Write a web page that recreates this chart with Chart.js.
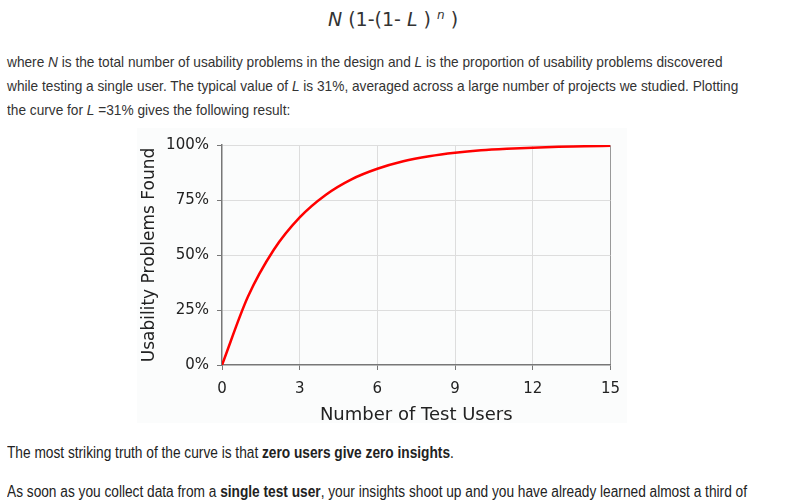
<!DOCTYPE html>
<html>
<head>
<meta charset="utf-8">
<script src="https://cdn.jsdelivr.net/npm/chart.js@4"></script>
<style>
  body { margin: 0; background: #fff; width: 800px; height: 502px; overflow: hidden; position: relative; }
  .formula { position: absolute; top: 8px; left: 0; width: 786px; text-align: center; font-family: "DejaVu Sans", sans-serif; font-size: 19px; color: #333; }
  .formula sup { font-size: 12px; }
  .line { position: absolute; left: 7px; font-family: "Liberation Sans", Arial, sans-serif; font-size: 15px; color: #333; white-space: nowrap; transform-origin: 0 0; transform: scaleX(0.912); }
  .bottom { position: absolute; left: 7px; font-family: "Liberation Sans", Arial, sans-serif; font-size: 16px; color: #222; white-space: nowrap; transform-origin: 0 0; transform: scaleX(0.856); }
  .chartbg { position: absolute; left: 137px; top: 128px; width: 490px; height: 295px; background: #fbfcfc; }
  .wrap { position: absolute; left: 130px; top: 128px; width: 500px; height: 300px; }
</style>
</head>
<body>
<div class="formula"><i>N</i> (1-(1- <i>L</i> ) <sup><i>n</i></sup> )</div>
<div class="line" style="top:53px">where <i>N</i> is the total number of usability problems in the design and <i>L</i> is the proportion of usability problems discovered</div>
<div class="line" style="top:77px">while testing a single user. The typical value of <i>L</i> is 31%, averaged across a large number of projects we studied. Plotting</div>
<div class="line" style="top:101px">the curve for <i>L</i> =31% gives the following result:</div>
<div class="chartbg"></div>
<div class="wrap"><canvas id="curve"></canvas></div>
<div class="bottom" style="top:444px">The most striking truth of the curve is that <b>zero users give zero insights</b>.</div>
<div class="bottom" style="top:483px">As soon as you collect data from a <b>single test user</b>, your insights shoot up and you have already learned almost a third of</div>
<script>
// values
const users = [0, 1, 2, 3, 4, 5, 6, 7, 8, 9, 10, 11, 12, 13, 14, 15];
const found = [0, 31, 52.4, 67.1, 77.3, 84.4, 89.2, 92.6, 94.9, 96.5, 97.6, 98.3, 98.8, 99.2, 99.4, 99.7];
const xTicks = [0, 3, 6, 9, 12, 15];
const yTicks = [0, 25, 50, 75, 100];

const tickFont = { family: 'DejaVu Sans', size: 15 };

const ctx = document.getElementById('curve').getContext('2d');
new Chart(ctx, {
    type: 'line',
    data: {
        datasets: [{
            data: users.map((u, i) => ({ x: u, y: found[i] })),
            borderColor: '#ff0000',
            borderWidth: 2.5,
            pointRadius: 0,
            cubicInterpolationMode: 'monotone',
            fill: false,
        }],
    },
    options: {
        responsive: true,
        maintainAspectRatio: false,
        animation: false,
        layout: { padding: { top: 13, right: 18 } },
        plugins: { legend: { display: false }, tooltip: { enabled: false } },
        scales: {
            x: {
                type: 'linear',
                min: 0,
                max: 15,
                afterBuildTicks: s => { s.ticks = xTicks.map(v => ({ value: v })); },
                afterFit: s => { s.height = 63; },
                grid: {
                    color: c => c.tick.value === 0 ? 'rgba(0,0,0,0)' : (c.tick.value === 15 ? '#999' : '#ddd'),
                    tickColor: '#777',
                    tickLength: 5,
                },
                border: { color: '#777', width: 1.5 },
                ticks: { color: '#222', font: tickFont, padding: 10, maxRotation: 0 },
                title: { display: true, text: 'Number of Test Users', color: '#222', font: { family: 'DejaVu Sans', size: 18 }, padding: { top: 2, bottom: 2 } },
            },
            y: {
                min: 0,
                max: 100,
                afterBuildTicks: s => { s.ticks = yTicks.map(v => ({ value: v })); },
                afterFit: s => { s.width = 92; },
                grid: {
                    color: c => c.tick.value === 0 ? 'rgba(0,0,0,0)' : '#ddd',
                    tickColor: '#777',
                    tickLength: 5,
                },
                border: { color: '#777', width: 1.5 },
                ticks: { color: '#222', font: tickFont, padding: 8, callback: v => v + '%' },
                title: { display: true, text: 'Usability Problems Found', color: '#222', font: { family: 'DejaVu Sans', size: 17 }, padding: { top: 9, bottom: 0 } },
            },
        },
    },
});
</script>
</body>
</html>
